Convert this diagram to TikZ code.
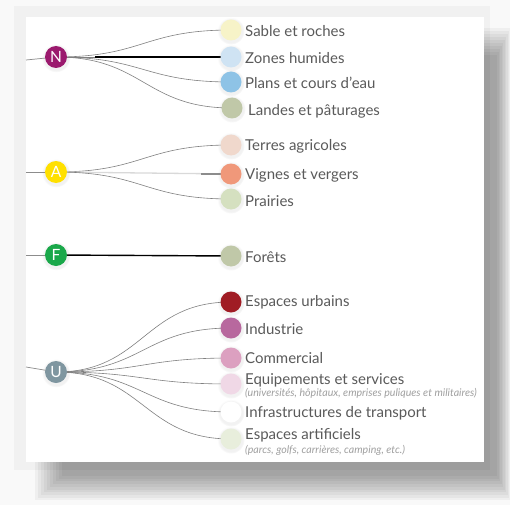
\documentclass[tikz,border=0pt]{standalone}
\usepackage{fontspec}
\setmainfont{Lato}
\usetikzlibrary{shadows}
\definecolor{cN}{HTML}{9B1A6E}
\definecolor{cA}{HTML}{FFE000}
\definecolor{cF}{HTML}{1AA84A}
\definecolor{cU}{HTML}{7F96A0}
\definecolor{sable}{HTML}{F7F3C8}
\definecolor{humid}{HTML}{CFE3F3}
\definecolor{plans}{HTML}{8EC3E6}
\definecolor{landes}{HTML}{C0C8A8}
\definecolor{terres}{HTML}{F0D8CC}
\definecolor{vignes}{HTML}{F0987A}
\definecolor{prairie}{HTML}{D5E0C0}
\definecolor{forets}{HTML}{C0C8A8}
\definecolor{urbain}{HTML}{A01C24}
\definecolor{indus}{HTML}{B8689E}
\definecolor{comm}{HTML}{DCA0C0}
\definecolor{equip}{HTML}{F0D8E6}
\definecolor{artif}{HTML}{E8EEDC}
\definecolor{txt}{HTML}{5A5A5A}
\definecolor{subtxt}{HTML}{A0A0A0}
\pgfdeclarelayer{bg}
\pgfdeclarelayer{lk}
\pgfsetlayers{bg,lk,main}
\tikzset{
  letter/.style={circle, minimum size=22pt, inner sep=0pt, text=white,
    font=\fontsize{15.5}{15.5}\selectfont,
    circular drop shadow={shadow xshift=0pt, shadow yshift=-0.8pt, shadow scale=1.3, opacity=0.10}},
  dot/.style={circle, minimum size=21pt, inner sep=0pt,
    circular drop shadow={shadow xshift=0pt, shadow yshift=-0.8pt, shadow scale=1.3, opacity=0.10}},
  lab/.style={anchor=west, inner sep=0pt, text=txt, font=\fontsize{15}{15}\selectfont},
  sublab/.style={anchor=west, inner sep=0pt, text=subtxt, font=\fontsize{10.6}{10.6}\selectfont\itshape},
  link/.style={draw=black!50, line width=0.6pt},
  inlink/.style={draw=black!45, line width=0.7pt},
  hl/.style={draw=black, line width=1.4pt},
}
\newcommand{\lnk}[2]{\draw[link] (#1.center) .. controls +(87.5pt,0pt) and +(-87.5pt,0pt) .. (#2.center);}
\begin{document}
\begin{tikzpicture}[x=1pt,y=-1pt]
\useasboundingbox (0,0) rectangle (510,505);
% background and panel shadow
\begin{pgfonlayer}{bg}
\fill[white!97.5!black] (0,0) rectangle (510,505);
\fill[white!94.5!black] (14,6) rectangle (490,470);
\foreach \i in {0,...,9}{
  \fill[black, opacity=0.04] ({62-3*\i},{55-3*\i}) rectangle ({497+1.5*\i},{476+2.7*\i});
}
\fill[white] (26,17) rectangle (484,462);
\end{pgfonlayer}

% letter nodes
\node[letter, fill=cN] (N) at (56,57) {N};
\node[letter, fill=cA] (A) at (56,172) {A};
\node[letter, fill=cF] (F) at (56,255) {F};
\node[letter, fill=cU] (U) at (56,372) {U};

% incoming coordinates
\coordinate (inN) at (26,60);
\coordinate (inA) at (26,172);
\coordinate (inF) at (26,255);
\coordinate (inU) at (26,367);

% targets
\node[dot, fill=sable]  (s1) at (231,30) {};
\node[dot, fill=humid]  (s2) at (231,57) {};
\node[dot, fill=plans]  (s3) at (231,82) {};
\node[dot, fill=landes] (s4) at (232,108) {};
\node[dot, fill=terres] (a1) at (231,145) {};
\node[dot, fill=vignes] (a2) at (231,174) {};
\node[dot, fill=prairie](a3) at (231,199) {};
\node[dot, fill=forets] (f1) at (231,256) {};
\node[dot, fill=urbain] (u1) at (231,302) {};
\node[dot, fill=indus]  (u2) at (231,328) {};
\node[dot, fill=comm]   (u3) at (231,358) {};
\node[dot, fill=equip]  (u4) at (231,384) {};
\node[dot, fill=white]  (u5) at (231,412) {};
\node[dot, fill=artif]  (u6) at (231,439) {};

% labels
\node[lab] (ls1) at (245,31) {Sable et roches};
\node[lab] (ls2) at (245,58) {Zones humides};
\node[lab] (ls3) at (245,83) {Plans et cours d’eau};
\node[lab] (ls4) at (248,111) {Landes et pâturages};
\node[lab] (la1) at (245,146) {Terres agricoles};
\node[lab] (la2) at (245,175) {Vignes et vergers};
\node[lab] (la3) at (245,201) {Prairies};
\node[lab] (lf1) at (245,257) {Forêts};
\node[lab] (lu1) at (245,302) {Espaces urbains};
\node[lab] (lu2) at (245,329) {Industrie};
\node[lab] (lu3) at (245,358) {Commercial};
\node[lab] (lu4) at (245,380) {Equipements et services};
\node[sublab] (lu4b) at (245,393.5) {(universités, hôpitaux, emprises puliques et militaires)};
\node[lab] (lu5) at (245,413) {Infrastructures de transport};
\node[lab] (lu6) at (245,435) {Espaces artificiels};
\node[sublab] (lu6b) at (245,450) {(parcs, golfs, carrières, camping, etc.)};

% links
\begin{pgfonlayer}{lk}
\draw[inlink] (inN) -- (N.center);
\draw[inlink] (inA) -- (A.center);
\draw[inlink] (inF) -- (F.center);
\draw[inlink] (inU) -- (U.center);
\lnk{N}{s1}
\lnk{N}{s2}
\lnk{N}{s3}
\lnk{N}{s4}
\draw[hl] ([xshift=39pt]N.center) -- (s2.center);
\lnk{A}{a1}
\draw[draw=black!15, line width=1.3pt] (A.center) -- (a2.center);
\draw[draw=black!45, line width=1.3pt] ([xshift=-30pt]a2.center) -- (a2.center);
\lnk{A}{a3}
\draw[hl] (F.center) -- (f1.center);
\lnk{U}{u1}
\lnk{U}{u2}
\lnk{U}{u3}
\lnk{U}{u4}
\lnk{U}{u5}
\lnk{U}{u6}
\end{pgfonlayer}
\end{tikzpicture}
\end{document}
